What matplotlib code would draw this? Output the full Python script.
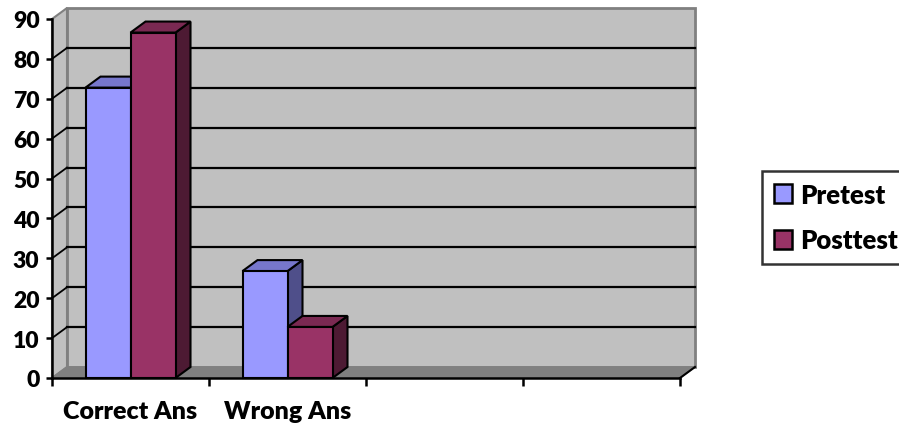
import matplotlib
matplotlib.use('Agg')
import matplotlib.pyplot as plt
from matplotlib.patches import Polygon, Patch
import numpy as np

# Datos
categorias = ['Correct Ans', 'Wrong Ans']
pretest = [72.8, 26.8]
posttest = [86.6, 12.8]
n_slots = 4          # el eje tiene 4 huecos de categoria, solo 2 con datos
y_max = 90
y_ticks = list(range(0, 91, 10))

colores = {
    'Pretest': ('#9999FF', '#7777CC', '#4F4F8A'),   # frente, arriba, lado
    'Posttest': ('#993366', '#7A2952', '#4D1A33'),
}

plt.rcParams['font.family'] = ['Lato', 'DejaVu Sans']
peso = 'heavy'

fig = plt.figure(figsize=(8.99, 4.27), dpi=100)
ax = fig.add_axes([52 / 899, 1 - 379 / 427, 628 / 899, 359 / 427])
ax.set_xlim(0, n_slots)
ax.set_ylim(0, y_max)
ax.patch.set_visible(False)

# desplazamiento de profundidad en unidades de datos
dx = 15 / 157
dy = 11 / (359 / y_max)

# paredes y suelo
pared_fondo = Polygon([(dx, dy), (n_slots + dx, dy), (n_slots + dx, y_max + dy), (dx, y_max + dy)],
                      closed=True, facecolor='#C0C0C0', edgecolor='#808080', lw=2, clip_on=False, zorder=1)
pared_lado = Polygon([(0, 0), (dx, dy), (dx, y_max + dy), (0, y_max)],
                     closed=True, facecolor='#C0C0C0', edgecolor='#808080', lw=1.5, clip_on=False, zorder=1)
suelo = Polygon([(0, 0), (n_slots, 0), (n_slots + dx, dy), (dx, dy)],
                closed=True, facecolor='#808080', edgecolor='#808080', lw=1, clip_on=False, zorder=1.5)
for p in [pared_fondo, pared_lado, suelo]:
    ax.add_patch(p)

# lineas de cuadricula
for v in y_ticks[1:-1]:
    ax.plot([dx, n_slots + dx], [v + dy, v + dy], color='black', lw=1.6, clip_on=False, zorder=2)
    ax.plot([0, dx], [v, v + dy], color='black', lw=1.3, clip_on=False, zorder=2)

# diagonal del eje x al final
ax.plot([n_slots, n_slots + dx], [0, dy], color='black', lw=1.5, clip_on=False, zorder=2)


def barra_3d(x0, ancho, valor, serie):
    frente, arriba, lado = colores[serie]
    x1 = x0 + ancho
    kw = dict(closed=True, edgecolor='black', lw=1.5, clip_on=False, zorder=3)
    ax.add_patch(Polygon([(x1, 0), (x1 + dx, dy), (x1 + dx, valor + dy), (x1, valor)], facecolor=lado, **kw))
    ax.add_patch(Polygon([(x0, valor), (x0 + dx, valor + dy), (x1 + dx, valor + dy), (x1, valor)], facecolor=arriba, **kw))
    ax.add_patch(Polygon([(x0, 0), (x1, 0), (x1, valor), (x0, valor)], facecolor=frente, **kw))


ancho = 45 / 157
for i in range(len(categorias)):
    centro = i + 0.5
    barra_3d(centro - ancho, ancho, pretest[i], 'Pretest')
    barra_3d(centro, ancho, posttest[i], 'Posttest')

# ejes
for s in ['top', 'right']:
    ax.spines[s].set_visible(False)
for s in ['left', 'bottom']:
    ax.spines[s].set_color('black')
    ax.spines[s].set_linewidth(1.8)
    ax.spines[s].set_zorder(4)

ax.set_yticks(y_ticks)
ax.set_yticklabels([str(t) for t in y_ticks], fontsize=16.5, fontweight=peso)
ax.tick_params(axis='y', direction='out', length=4, width=1.8, pad=5)

ax.set_xticks(range(n_slots + 1))
ax.set_xticklabels([])
ax.set_xticks([i + 0.5 for i in range(len(categorias))], minor=True)
ax.set_xticklabels(categorias, minor=True, fontsize=18, fontweight=peso)
ax.tick_params(axis='x', which='major', direction='out', length=6, width=1.8)
ax.tick_params(axis='x', which='minor', length=0, pad=16)

# leyenda
handles = [Patch(facecolor=colores[k][0], edgecolor='black', lw=1.8) for k in colores]
leg = fig.legend(handles, list(colores.keys()), loc='upper left',
                 bbox_to_anchor=(762 / 899, 1 - 172 / 427),
                 prop={'size': 18.5, 'weight': peso},
                 frameon=True, fancybox=False, edgecolor='black',
                 handlelength=0.72, handleheight=0.72, handletextpad=0.3,
                 labelspacing=0.85, borderpad=0.45, borderaxespad=0)
leg.get_frame().set_linewidth(1.8)

fig.savefig('out.png', dpi=100, facecolor='white')
